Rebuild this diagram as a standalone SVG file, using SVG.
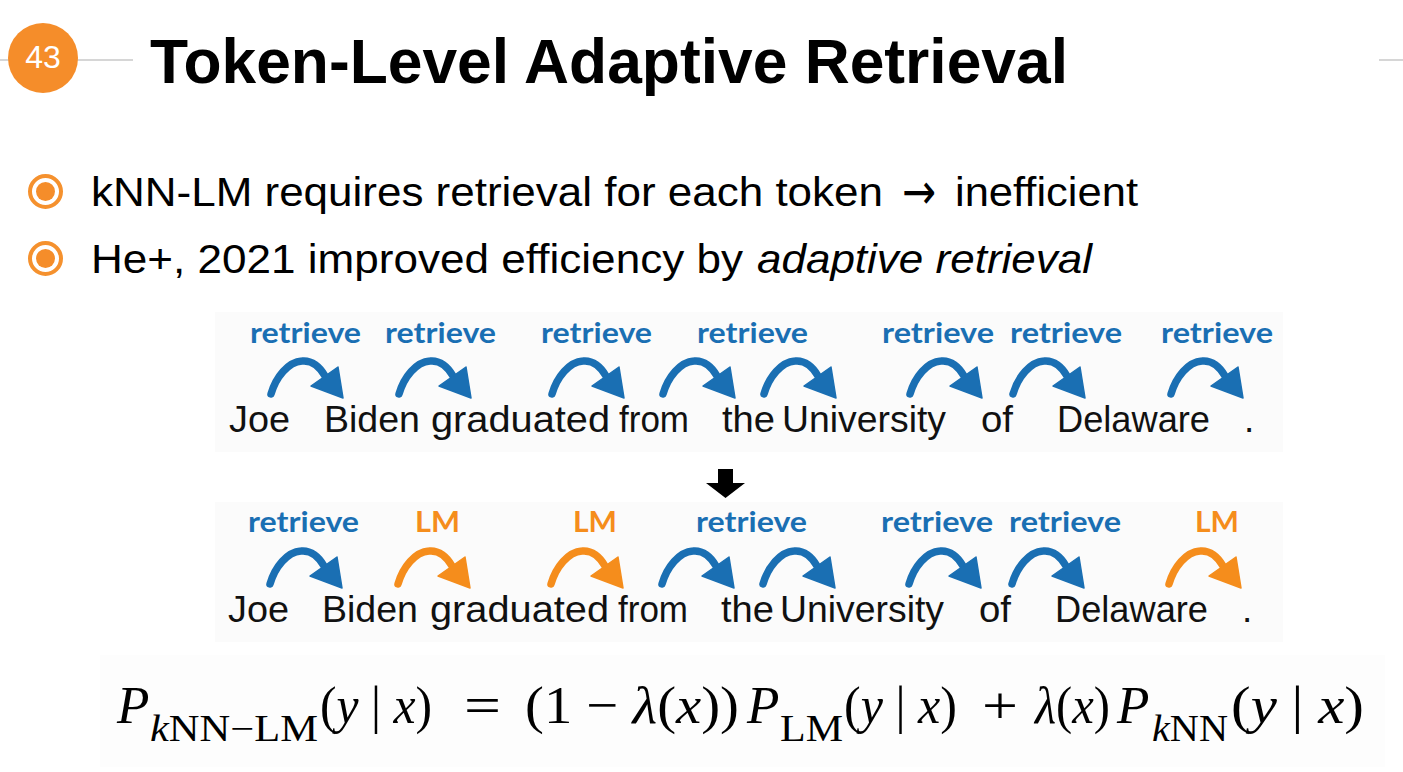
<svg xmlns="http://www.w3.org/2000/svg" xmlns:xlink="http://www.w3.org/1999/xlink" width="1403" height="772" viewBox="0 0 1403 772">
<style>
.title{font-family:"Liberation Sans",Arial,sans-serif;font-weight:bold;font-size:63px;fill:#000}
.bul{font-family:"Liberation Sans",Arial,sans-serif;font-size:40px;fill:#000}
.word{font-family:"Liberation Sans",Arial,sans-serif;font-size:37px;fill:#111}
.lab{font-family:Lato,"Open Sans",sans-serif;font-weight:bold;font-size:29px}
.ret{fill:#1a6fb3}
.lm{fill:#f58d1c}
.fm{font-family:"Liberation Serif","Times New Roman",serif;font-size:53px;fill:#000}
.fs{font-family:"Liberation Serif","Times New Roman",serif;font-size:37px;fill:#000}
.it{font-style:italic}
.rb{fill:none;stroke-width:7.5;stroke-linecap:round}
</style>
<defs>
<g id="arrB">
<path class="rb" stroke="#1a6fb3" d="M1,35 C6,18 18,3 32,2 C42,1 50,8 55,17"/>
<path fill="#1a6fb3" stroke="#1a6fb3" stroke-width="1.5" stroke-linejoin="round" d="M41,27 L68,8 L73,39 Z"/>
</g>
<g id="arrO">
<path class="rb" stroke="#f58d1c" d="M1,35 C6,18 18,3 32,2 C42,1 50,8 55,17"/>
<path fill="#f58d1c" stroke="#f58d1c" stroke-width="1.5" stroke-linejoin="round" d="M41,27 L68,8 L73,39 Z"/>
</g>
</defs>
<rect width="1403" height="772" fill="#fff"/>
<rect x="215" y="312" width="1068" height="140" fill="#fbfbfb"/>
<rect x="215" y="502" width="1068" height="140" fill="#fbfbfb"/>
<rect x="100" y="655" width="1285" height="112" fill="#fdfdfd"/>

<g id="header">
<line x1="0" y1="60" x2="133" y2="60" stroke="#c8c8c8" stroke-width="1.5"/>
<line x1="1379" y1="60" x2="1403" y2="60" stroke="#c8c8c8" stroke-width="1.5"/>
<circle cx="43" cy="58" r="35" fill="#f58d2a"/>
<text x="43" y="68" text-anchor="middle" font-family="Liberation Sans,Arial,sans-serif" font-size="32" fill="#fff">43</text>
</g>
<g id="title">
<text class="title" x="150" y="83" textLength="918" lengthAdjust="spacingAndGlyphs">Token-Level Adaptive Retrieval</text>
</g>
<g id="bullet1">
<circle cx="45.5" cy="191.5" r="15.5" fill="none" stroke="#f5912e" stroke-width="4"/>
<circle cx="45.5" cy="191.5" r="9.5" fill="#f58d2a"/>
<text class="bul" x="91" y="206" textLength="792" lengthAdjust="spacingAndGlyphs">kNN-LM requires retrieval for each token</text>
<text x="902" y="209" font-family="DejaVu Sans,sans-serif" font-size="50" textLength="34" lengthAdjust="spacingAndGlyphs" fill="#000">→</text>
<text class="bul" x="955" y="206" textLength="183" lengthAdjust="spacingAndGlyphs">inefficient</text>
</g>
<g id="bullet2">
<circle cx="45.5" cy="258.5" r="15.5" fill="none" stroke="#f5912e" stroke-width="4"/>
<circle cx="45.5" cy="258.5" r="9.5" fill="#f58d2a"/>
<text class="bul" x="91" y="273" textLength="652" lengthAdjust="spacingAndGlyphs">He+, 2021 improved efficiency by</text>
<text class="bul it" x="757" y="273" textLength="335" lengthAdjust="spacingAndGlyphs">adaptive retrieval</text>
</g>

<g id="row1">
<g id="row1-labels">
<text class="lab ret" x="250" y="343" textLength="111" lengthAdjust="spacingAndGlyphs">retrieve</text>
<text class="lab ret" x="385" y="343" textLength="111" lengthAdjust="spacingAndGlyphs">retrieve</text>
<text class="lab ret" x="541" y="343" textLength="111" lengthAdjust="spacingAndGlyphs">retrieve</text>
<text class="lab ret" x="697" y="343" textLength="111" lengthAdjust="spacingAndGlyphs">retrieve</text>
<text class="lab ret" x="882" y="343" textLength="112" lengthAdjust="spacingAndGlyphs">retrieve</text>
<text class="lab ret" x="1010" y="343" textLength="112" lengthAdjust="spacingAndGlyphs">retrieve</text>
<text class="lab ret" x="1161" y="343" textLength="112" lengthAdjust="spacingAndGlyphs">retrieve</text>
</g>
<g id="row1-words">
<text class="word" x="229" y="432" textLength="61" lengthAdjust="spacingAndGlyphs">Joe</text>
<text class="word" x="324" y="432" textLength="96" lengthAdjust="spacingAndGlyphs">Biden</text>
<text class="word" x="431" y="432" textLength="179" lengthAdjust="spacingAndGlyphs">graduated</text>
<text class="word" x="619" y="432" textLength="70" lengthAdjust="spacingAndGlyphs">from</text>
<text class="word" x="722" y="432" textLength="53" lengthAdjust="spacingAndGlyphs">the</text>
<text class="word" x="782" y="432" textLength="164" lengthAdjust="spacingAndGlyphs">University</text>
<text class="word" x="981" y="432" textLength="32" lengthAdjust="spacingAndGlyphs">of</text>
<text class="word" x="1057" y="432" textLength="153" lengthAdjust="spacingAndGlyphs">Delaware</text>
<text class="word" x="1244" y="432">.</text>
</g>
</g>

<g id="down-arrow">
<path d="M718,469 H733 V483 H745 L725.5,498 L706,483 H718 Z" fill="#000"/>
</g>

<g id="row2">
<g id="row2-labels">
<text class="lab ret" x="248" y="532" textLength="111" lengthAdjust="spacingAndGlyphs">retrieve</text>
<text class="lab lm" x="415" y="532" textLength="45" lengthAdjust="spacingAndGlyphs">LM</text>
<text class="lab lm" x="573" y="532" textLength="44" lengthAdjust="spacingAndGlyphs">LM</text>
<text class="lab ret" x="696" y="532" textLength="111" lengthAdjust="spacingAndGlyphs">retrieve</text>
<text class="lab ret" x="881" y="532" textLength="112" lengthAdjust="spacingAndGlyphs">retrieve</text>
<text class="lab ret" x="1009" y="532" textLength="112" lengthAdjust="spacingAndGlyphs">retrieve</text>
<text class="lab lm" x="1195" y="532" textLength="44" lengthAdjust="spacingAndGlyphs">LM</text>
</g>
<g id="row2-words">
<text class="word" x="228" y="622" textLength="61" lengthAdjust="spacingAndGlyphs">Joe</text>
<text class="word" x="322" y="622" textLength="96" lengthAdjust="spacingAndGlyphs">Biden</text>
<text class="word" x="430" y="622" textLength="179" lengthAdjust="spacingAndGlyphs">graduated</text>
<text class="word" x="618" y="622" textLength="70" lengthAdjust="spacingAndGlyphs">from</text>
<text class="word" x="721" y="622" textLength="53" lengthAdjust="spacingAndGlyphs">the</text>
<text class="word" x="780" y="622" textLength="164" lengthAdjust="spacingAndGlyphs">University</text>
<text class="word" x="979" y="622" textLength="32" lengthAdjust="spacingAndGlyphs">of</text>
<text class="word" x="1055" y="622" textLength="153" lengthAdjust="spacingAndGlyphs">Delaware</text>
<text class="word" x="1242" y="622">.</text>
</g>
</g>

<g id="connectors">
<use xlink:href="#arrB" href="#arrB" transform="translate(270,359)"/>
<use xlink:href="#arrB" href="#arrB" transform="translate(398,359)"/>
<use xlink:href="#arrB" href="#arrB" transform="translate(551,359)"/>
<use xlink:href="#arrB" href="#arrB" transform="translate(662,359)"/>
<use xlink:href="#arrB" href="#arrB" transform="translate(763,359)"/>
<use xlink:href="#arrB" href="#arrB" transform="translate(909,359)"/>
<use xlink:href="#arrB" href="#arrB" transform="translate(1012,359)"/>
<use xlink:href="#arrB" href="#arrB" transform="translate(1170,359)"/>
<use xlink:href="#arrB" href="#arrB" transform="translate(269,549)"/>
<use xlink:href="#arrO" href="#arrO" transform="translate(397,549)"/>
<use xlink:href="#arrO" href="#arrO" transform="translate(550,549)"/>
<use xlink:href="#arrB" href="#arrB" transform="translate(661,549)"/>
<use xlink:href="#arrB" href="#arrB" transform="translate(762,549)"/>
<use xlink:href="#arrB" href="#arrB" transform="translate(908,549)"/>
<use xlink:href="#arrB" href="#arrB" transform="translate(1011,549)"/>
<use xlink:href="#arrO" href="#arrO" transform="translate(1168,549)"/>
</g>

<g id="formula">
<text class="fm it" x="117" y="723">P</text>
<text class="fs" x="150" y="741" textLength="168" lengthAdjust="spacingAndGlyphs"><tspan class="it">k</tspan>NN−LM</text>
<text class="fm" x="320" y="723" textLength="112" lengthAdjust="spacingAndGlyphs">(<tspan class="it">y</tspan> | <tspan class="it">x</tspan>)</text>
<text class="fm" x="464" y="723" textLength="37" lengthAdjust="spacingAndGlyphs">=</text>
<text class="fm" x="525" y="723" textLength="214" lengthAdjust="spacingAndGlyphs">(1 − <tspan class="it">λ</tspan>(<tspan class="it">x</tspan>))</text>
<text class="fm it" x="747" y="723">P</text>
<text class="fs" x="780" y="741" textLength="63" lengthAdjust="spacingAndGlyphs">LM</text>
<text class="fm" x="844" y="723" textLength="113" lengthAdjust="spacingAndGlyphs">(<tspan class="it">y</tspan> | <tspan class="it">x</tspan>)</text>
<text class="fm" x="982" y="723" textLength="36" lengthAdjust="spacingAndGlyphs">+</text>
<text class="fm" x="1035" y="723" textLength="75" lengthAdjust="spacingAndGlyphs"><tspan class="it">λ</tspan>(<tspan class="it">x</tspan>)</text>
<text class="fm it" x="1117" y="723">P</text>
<text class="fs" x="1152" y="741" textLength="76" lengthAdjust="spacingAndGlyphs"><tspan class="it">k</tspan>NN</text>
<text class="fm" x="1231" y="723" textLength="133" lengthAdjust="spacingAndGlyphs">(<tspan class="it">y</tspan> | <tspan class="it">x</tspan>)</text>
</g>
</svg>
